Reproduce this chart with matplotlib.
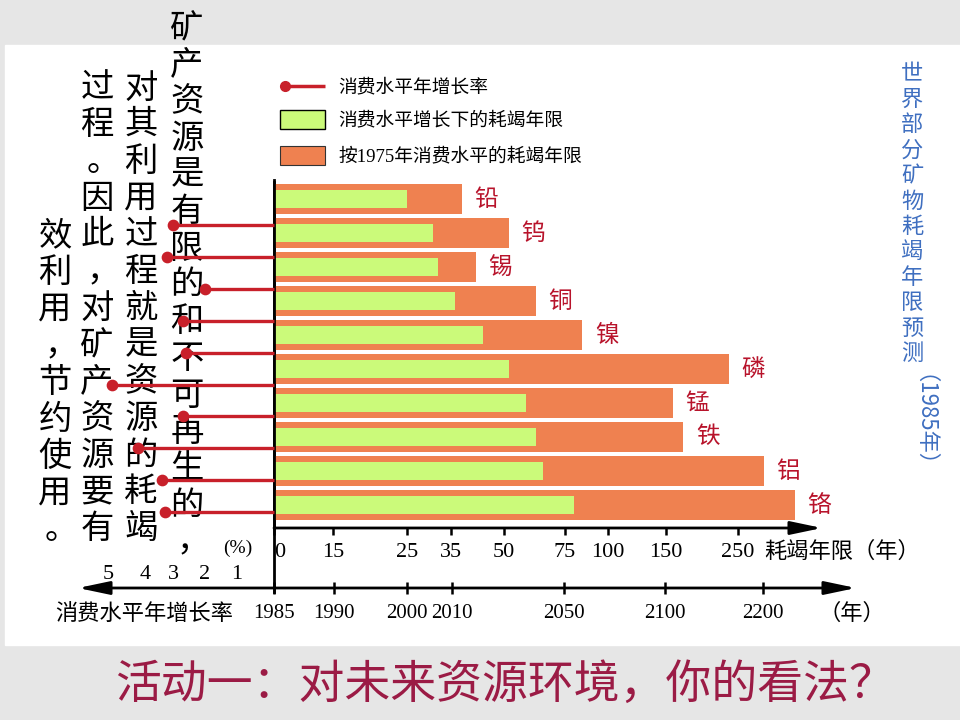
import numpy as np
import matplotlib.pyplot as plt
from matplotlib.patches import Rectangle

plt.rcParams['font.family'] = ['Noto Sans CJK SC', 'DejaVu Sans']
SERIF = ['Liberation Serif', 'Noto Sans CJK SC']

# data (top row first)
minerals = ['铅', '钨', '锡', '铜', '镍', '磷', '锰', '铁', '铝', '铬']
life_1975 = [38, 52, 42, 63, 85, 237, 160, 174, 286, 329]     # 按1975年消费水平
life_growth = [25, 31, 32, 36, 44, 52, 59, 63, 66, 80]        # 消费水平增长下
growth_rate = [3.0, 3.2, 2.0, 2.7, 2.6, 4.9, 2.7, 4.2, 3.4, 3.3]  # %

life_ticks = [0, 15, 25, 35, 50, 75, 100, 150, 250]
year_ticks = [1985, 1990, 2000, 2010, 2050, 2100, 2200]
rate_ticks = [1, 2, 3, 4, 5]

# the printed axes are not linear, spacing of the ticks as drawn (px)
life_knots = [0, 59, 133, 177, 230, 291, 334, 392, 464]
year_knots = [0, 60, 133, 178, 290, 391, 489]
rate_knots = [0, 37, 69, 101, 129, 166]

text_cols = ['矿产资源是有限的和不可再生的，', '对其利用过程就是资源的耗竭',
             '过程。因此，对矿产资源要有', '效利用，节约使用。']
title_side = '世界部分矿物耗竭年限预测'


def piecewise(xs, ys):
    xs = np.asarray(xs, float)
    ys = np.asarray(ys, float)
    s0 = (ys[1] - ys[0]) / (xs[1] - xs[0])
    s1 = (ys[-1] - ys[-2]) / (xs[-1] - xs[-2])

    def f(v):
        v = np.asarray(v, float)
        out = np.interp(v, xs, ys)
        out = np.where(v < xs[0], ys[0] + (v - xs[0]) * s0, out)
        out = np.where(v > xs[-1], ys[-1] + (v - xs[-1]) * s1, out)
        return out
    return f


fig = plt.figure(figsize=(9.6, 7.2), dpi=100, facecolor='#e6e6e6')


def px_axes(x0, y0, x1, y1, z):
    a = fig.add_axes([x0 / 960, 1 - y1 / 720, (x1 - x0) / 960, (y1 - y0) / 720], zorder=z)
    a.patch.set_alpha(0)
    return a


# slide background, texts, arrows
bg = px_axes(0, 0, 960, 720, 0)
bg.set_xlim(0, 960)
bg.set_ylim(720, 0)
bg.axis('off')
bg.add_patch(Rectangle((5, 45), 955, 600, color='white'))

for col, x, y0 in zip(text_cols, [187, 141, 97, 55], [28, 88, 88, 236]):
    for k, ch in enumerate(col):
        dx = 6 if ch in '，。' else 0
        bg.text(x + dx, y0 + k * 36.7, ch, fontsize=24, ha='center', va='center',
                color='black')

for k, ch in enumerate(title_side):
    bg.text(912, 74 + k * 25.4, ch, fontsize=16, ha='center', va='center', color='#3f6fc0')
bg.text(912, 432, '（1985年）', fontsize=16, ha='center', va='center',
        rotation=-90, color='#3f6fc0')

# legend
red = '#c8202a'
orange = '#ef8150'
green = '#cbfa7a'
bg.plot([282, 325], [86, 86], color=red, lw=2.5, solid_capstyle='butt')
bg.plot([285], [86], 'o', color=red, ms=7)
bg.add_patch(Rectangle((280, 110), 45, 19, facecolor=green, edgecolor='black', lw=1))
bg.add_patch(Rectangle((280, 146), 45, 19, facecolor=orange, edgecolor='#333333', lw=0.8))
bg.text(338, 87, '消费水平年增长率', fontsize=13.5, va='center')
bg.text(338, 120, '消费水平增长下的耗竭年限', fontsize=13.5, va='center')
bg.text(338, 156, '按1975年消费水平的耗竭年限', fontsize=13.5, va='center', family=SERIF)

# axis lines
bg.plot([274, 274], [180, 592], color='black', lw=2)
arrow = dict(arrowstyle='-|>,head_length=1.9,head_width=0.4', color='black',
             lw=2, mutation_scale=10, shrinkA=0, shrinkB=0)
bg.annotate('', xy=(822, 528), xytext=(274, 528), arrowprops=arrow)
arrow2 = dict(arrow, arrowstyle='<|-|>,head_length=1.9,head_width=0.4')
bg.annotate('', xy=(856, 588), xytext=(78, 588), arrowprops=arrow2)

bg.text(764, 551, '耗竭年限（年）', fontsize=16, va='center', ha='left')
bg.text(238, 548, '(%)', fontsize=14, va='center', ha='center', family=SERIF)
bg.text(55, 613, '消费水平年增长率', fontsize=16, va='center', ha='left')
bg.text(852, 613, '（年）', fontsize=16, va='center', ha='center')
bg.text(505, 685, '活动一：对未来资源环境，你的看法？', fontsize=33,
        ha='center', va='center', color='#9b1b45')

# bars
ax = px_axes(274, 182, 820, 528, 2)
fwd = piecewise(life_ticks, life_knots)
inv = piecewise(life_knots, life_ticks)
ax.set_xscale('function', functions=(fwd, inv))
ax.set_xlim(0, float(inv(546)))
ax.set_ylim(9.676, -0.5)
rows = np.arange(len(minerals))
ax.barh(rows, life_1975, height=0.91, color=orange)
ax.barh(rows, life_growth, height=0.52, color=green)
for i, (name, v) in enumerate(zip(minerals, life_1975)):
    ax.annotate(name, (v, i), xytext=(9, 0), textcoords='offset points',
                ha='left', va='center', fontsize=17, color='#b8132b')
for s in ['top', 'right', 'bottom']:
    ax.spines[s].set_visible(False)
ax.spines['left'].set_linewidth(2)
ax.set_yticks([])
ax.set_xticks(life_ticks)
ax.set_xticklabels([str(t) for t in life_ticks], family=SERIF, fontsize=16)
ax.get_xticklabels()[0].set_ha('left')
ax.tick_params(axis='x', direction='out', length=5, width=1.8, pad=6)

# calendar years under the chart
ay = px_axes(274, 560, 900, 588, 2)
ay.set_xscale('function', functions=(piecewise(year_ticks, year_knots),
                                     piecewise(year_knots, year_ticks)))
ay.set_xlim(1985, float(piecewise(year_knots, year_ticks)(626)))
for s in ay.spines.values():
    s.set_visible(False)
ay.set_yticks([])
ay.set_xticks(year_ticks)
ay.set_xticklabels([str(t) for t in year_ticks], family=SERIF, fontsize=15)
ay.tick_params(axis='x', direction='inout', length=9, width=1.8, pad=7)

# consumption growth rate, drawn to the left
ar = px_axes(60, 209, 274, 562, 3)
ar.set_xscale('function', functions=(piecewise(range(6), rate_knots),
                                     piecewise(rate_knots, range(6))))
ar.set_xlim(float(piecewise(rate_knots, range(6))(214)), 0)
ar.set_ylim(10.56, -0.5)
ar.hlines(rows, 0, growth_rate, color=red, lw=2.4, clip_on=False)
ar.scatter(growth_rate, rows, s=55, color=red, zorder=3, clip_on=False)
for s in ar.spines.values():
    s.set_visible(False)
ar.set_yticks([])
ar.set_xticks(rate_ticks)
ar.set_xticklabels([str(t) for t in rate_ticks], family=SERIF, fontsize=16)
ar.tick_params(axis='x', length=0, pad=2)

fig.savefig('out.png', dpi=100, facecolor=fig.get_facecolor())
